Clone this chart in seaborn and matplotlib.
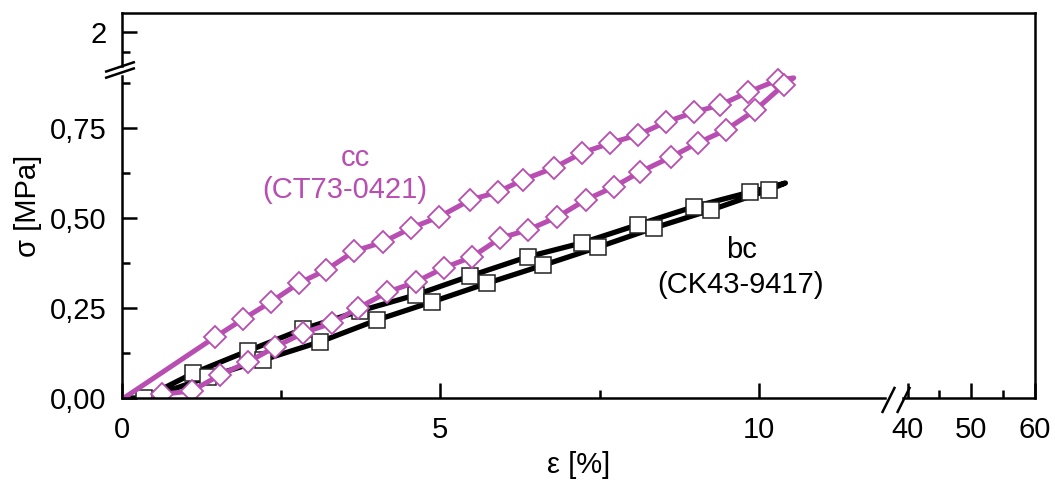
import numpy as np
import pandas as pd
import matplotlib
matplotlib.use("Agg")
import matplotlib.pyplot as plt
import seaborn as sns
from matplotlib.ticker import FixedLocator, FixedFormatter, NullFormatter

# Hysteresis loops: loading branch followed by unloading branch
cc_strain = [0.03, 1.46, 1.90, 2.34, 2.78, 3.21, 3.65, 4.10, 4.54, 4.98, 5.47, 5.90,
             6.30, 6.78, 7.23, 7.67, 8.11, 8.54, 8.99, 9.40, 9.84, 10.30, 10.55,
             10.39, 9.95, 9.48, 9.04, 8.62, 8.14, 7.72, 7.28, 6.84, 6.38, 5.94, 5.50,
             5.05, 4.61, 4.17, 3.71, 3.30, 2.85, 2.41, 1.98, 1.54, 1.10, 0.63, 0.49]
cc_stress = [0.000, 0.169, 0.219, 0.267, 0.319, 0.356, 0.408, 0.433, 0.472, 0.503, 0.550, 0.572,
             0.606, 0.639, 0.681, 0.708, 0.731, 0.766, 0.794, 0.814, 0.850, 0.883, 0.889,
             0.869, 0.800, 0.744, 0.708, 0.669, 0.628, 0.586, 0.550, 0.503, 0.467, 0.444, 0.392,
             0.361, 0.322, 0.294, 0.250, 0.208, 0.181, 0.142, 0.100, 0.064, 0.020, 0.010, 0.000]

bc_strain = [0.09, 0.35, 1.12, 1.98, 2.85, 3.74, 4.61, 5.47, 6.37, 7.23, 8.10, 8.98, 9.87, 10.42,
             10.16, 9.25, 8.35, 7.48, 6.62, 5.74, 4.87, 4.01, 3.11, 2.22, 1.35, 0.40]
bc_stress = [0.000, 0.000, 0.069, 0.131, 0.192, 0.242, 0.286, 0.339, 0.392, 0.431, 0.481, 0.531, 0.572, 0.597,
             0.578, 0.522, 0.472, 0.419, 0.369, 0.319, 0.267, 0.217, 0.156, 0.106, 0.058, 0.000]

x_major = [0, 5, 10, 40, 50, 60]
x_major_labels = ["0", "5", "10", "40", "50", "60"]
x_minor = [2.5, 7.5, 45, 55]
y_major = [0, 0.25, 0.5, 0.75, 2]
y_major_labels = ["0,00", "0,25", "0,50", "0,75", "2"]
y_minor = [0.125, 0.375, 0.625, 0.875, 1.5]

CC_COLOR = "#B84DB2"
BC_COLOR = "#000000"
FS = 21

sns.set_theme(style="white")
plt.rcParams["font.family"] = ["Liberation Sans", "DejaVu Sans"]
plt.rcParams["axes.linewidth"] = 1.8


# Broken axes: compressed jump from 12 to 40 on strain, and from 0.9 to 1 on stress
def x_fwd(x):
    x = np.asarray(x, float)
    return np.where(x <= 12, x,
                    np.where(x < 40, 12 + (x - 12) * (0.34 / 28), 12.34 + (x - 40) * 0.1))


def x_inv(u):
    u = np.asarray(u, float)
    return np.where(u <= 12, u,
                    np.where(u < 12.34, 12 + (u - 12) * (28 / 0.34), 40 + (u - 12.34) / 0.1))


def y_fwd(y):
    y = np.asarray(y, float)
    return np.where(y <= 0.9, y,
                    np.where(y < 1, 0.9 + (y - 0.9) * 0.05, 0.905 + (y - 1) * 0.1117))


def y_inv(v):
    v = np.asarray(v, float)
    return np.where(v <= 0.9, v,
                    np.where(v < 0.905, 0.9 + (v - 0.9) / 0.05, 1 + (v - 0.905) / 0.1117))


fig = plt.figure(figsize=(10.55, 4.86), dpi=100)
ax = fig.add_axes([122 / 1055, 88 / 486, 913 / 1055, 385 / 486])


def marker_indices(strain):
    tip = int(np.argmax(strain))
    return [i for i in range(1, len(strain) - 1) if i != tip]


bc_df = pd.DataFrame({"strain": bc_strain, "stress": bc_stress})
cc_df = pd.DataFrame({"strain": cc_strain, "stress": cc_stress})

sns.lineplot(data=bc_df, x="strain", y="stress", ax=ax, sort=False, estimator=None,
             color=BC_COLOR, lw=3.8, marker="s", markevery=marker_indices(bc_strain),
             ms=11.5, mfc="white", mec="#222222", mew=1.1)
sns.lineplot(data=cc_df, x="strain", y="stress", ax=ax, sort=False, estimator=None,
             color=CC_COLOR, lw=3.6, marker="D", markevery=marker_indices(cc_strain),
             ms=11, mfc="white", mec=CC_COLOR, mew=1.3)

ax.set_xscale("function", functions=(x_fwd, x_inv))
ax.set_yscale("function", functions=(y_fwd, y_inv))
ax.set_xlim(0, 60)
ax.set_ylim(0, 2.47)

ax.xaxis.set_major_locator(FixedLocator(x_major))
ax.xaxis.set_major_formatter(FixedFormatter(x_major_labels))
ax.xaxis.set_minor_locator(FixedLocator(x_minor))
ax.xaxis.set_minor_formatter(NullFormatter())
ax.yaxis.set_major_locator(FixedLocator(y_major))
ax.yaxis.set_major_formatter(FixedFormatter(y_major_labels))
ax.yaxis.set_minor_locator(FixedLocator(y_minor))
ax.yaxis.set_minor_formatter(NullFormatter())

ax.tick_params(which="both", direction="in", top=False, right=False,
               bottom=True, left=True, width=1.8, color="black")
ax.tick_params(axis="x", which="both", pad=13)
ax.tick_params(axis="y", which="both", pad=11)
ax.tick_params(which="major", length=10.8, labelsize=FS, labelcolor="black")
ax.tick_params(which="minor", length=5.8)

ax.set_xlabel("ε [%]", fontsize=FS, color="black", labelpad=5)
ax.set_ylabel("σ [MPa]", fontsize=FS, color="black", labelpad=6)

for side in ("top", "right"):
    ax.spines[side].set_color("black")
    ax.spines[side].set_linewidth(1.8)
ax.spines["bottom"].set_visible(False)
ax.spines["left"].set_visible(False)

# Spine segments around the breaks, in axes fractions
axis_kw = dict(transform=ax.transAxes, color="black", lw=1.8, clip_on=False,
               solid_capstyle="projecting")
ax.plot([0, 0.8357], [0, 0], **axis_kw)
ax.plot([0.855, 1], [0, 0], **axis_kw)
ax.plot([0, 0], [0, 0.836], **axis_kw)
ax.plot([0, 0], [0.862, 1], **axis_kw)

slash_kw = dict(transform=ax.transAxes, color="black", lw=1.8, clip_on=False,
                solid_capstyle="butt")
ax.plot([0.8324, 0.8467], [-0.039, 0.029], **slash_kw)
ax.plot([0.8489, 0.8632], [-0.039, 0.029], **slash_kw)
ax.plot([-0.0186, 0.0142], [0.847, 0.873], **slash_kw)
ax.plot([-0.0186, 0.0142], [0.831, 0.857], **slash_kw)

ax.text(3.66, 0.667, "cc", color=CC_COLOR, fontsize=FS, ha="center", va="center")
ax.text(3.50, 0.578, "(CT73-0421)", color=CC_COLOR, fontsize=FS, ha="center", va="center")
ax.text(9.73, 0.411, "bc", color="black", fontsize=FS, ha="center", va="center")
ax.text(9.72, 0.314, "(CK43-9417)", color="black", fontsize=FS, ha="center", va="center")

fig.savefig("out.png", dpi=100, facecolor="white")
